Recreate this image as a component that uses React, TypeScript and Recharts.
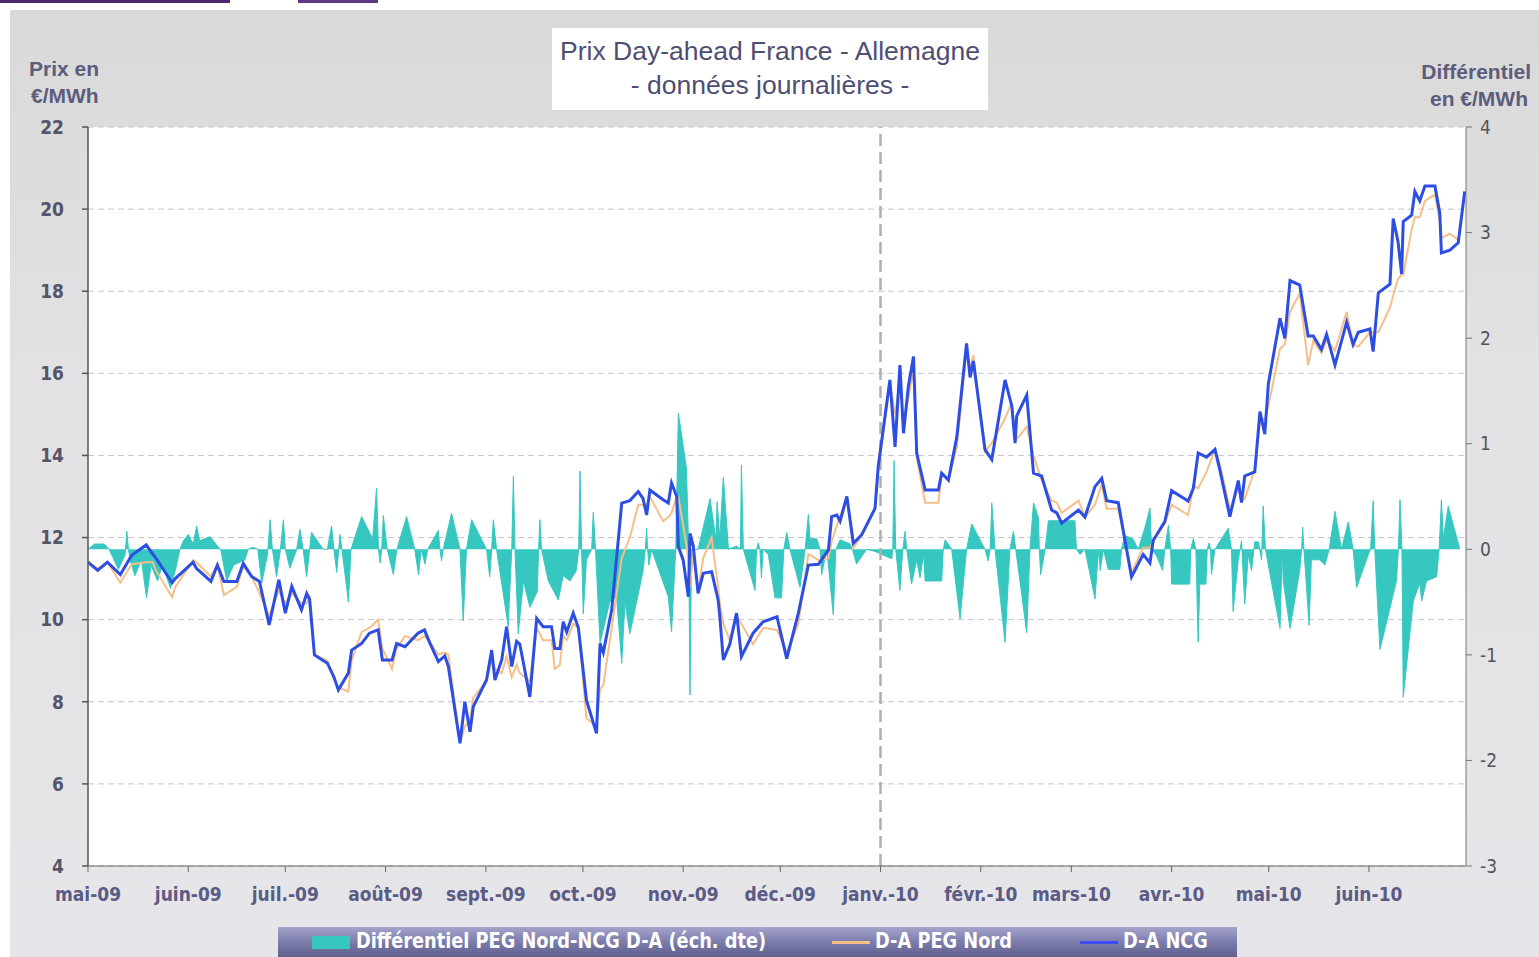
import React from 'react';
import {
  ComposedChart,
  Line,
  Area,
  XAxis,
  YAxis,
  CartesianGrid,
  ReferenceLine,
} from 'recharts';

// Day index counted from 1 May 2009
const monthTicks = [0, 31, 61, 92, 123, 153, 184, 214, 245, 276, 304, 335, 365, 396];
const monthLabels = [
  'mai-09', 'juin-09', 'juil.-09', 'août-09', 'sept.-09', 'oct.-09', 'nov.-09',
  'déc.-09', 'janv.-10', 'févr.-10', 'mars-10', 'avr.-10', 'mai-10', 'juin-10',
];
const leftTicks = [4, 6, 8, 10, 12, 14, 16, 18, 20, 22];
const rightTicks = [-3, -2, -1, 0, 1, 2, 3, 4];

const priceDays = [
  0, 3, 6, 10, 13.5, 18, 20, 21, 26, 27, 32.5, 33.5, 38, 40, 42, 46, 48, 50.6, 53, 56,
  59, 61, 63, 66, 67.6, 68.5, 70, 74, 76, 77.4, 80.5, 81.5, 84.6, 87, 89.7, 91, 94, 95.4, 98, 102,
  104, 105.7, 108.3, 110.3, 111.4, 115, 116.5, 118.1, 119.1, 123.2, 124.8, 125.8, 127.9, 129.4, 131, 132.5, 133.5, 136.6, 138.7, 140.7,
  143.3, 144.3, 145.9, 146.9, 148, 150, 151.6, 154.1, 157.2, 158.3, 159.3, 161.9, 165, 167.5, 170.1, 171.6, 172.7, 173.7, 177.8, 179.4,
  180.4, 182, 182.5, 184, 185.6, 186.1, 187.1, 188.6, 190.2, 192.8, 194.8, 195.3, 196.4, 198.4, 200.5, 202, 205.6, 208.7, 213, 216,
  219.6, 222.7, 225.8, 228.9, 229.9, 231.5, 232.5, 234.6, 236.6, 239.2, 243.3, 244.3, 247.9, 249.5, 251, 252.1, 253.6, 255.2, 256.2, 258.8,
  262.9, 263.9, 266, 268.6, 271.6, 272.7, 273.7, 277.3, 279.4, 283.5, 285.6, 286.6, 287.1, 290.2, 292.3, 294.8, 297.9, 299.5, 301, 306.2,
  308.2, 311.3, 313.4, 314.9, 318.5, 322.6, 326.2, 328.3, 329.3, 332.9, 335, 340.1, 341.7, 343.2, 345.8, 348.4, 349.9, 353, 355.6, 356.6,
  357.6, 360.7, 362.3, 363.8, 364.9, 368.5, 370, 371.6, 374.6, 377.2, 378.8, 381.3, 382.9, 385.5, 389.1, 391.1, 392.7, 396.3, 397.3, 398.9,
  402.5, 403.5, 405, 406.1, 406.6, 409.2, 410.2, 411.7, 413.3, 416.4, 417.9, 418.4, 421, 423.6, 425.6,
];

const ncgValues = [
  11.4, 11.2, 11.4, 11.1, 11.57, 11.82, 11.6, 11.5, 10.9, 11.0, 11.4, 11.25, 10.93, 11.33, 10.93, 10.93, 11.37, 11.05, 10.93, 9.87,
  10.97, 10.16, 10.81, 10.24, 10.64, 10.5, 9.14, 8.94, 8.61, 8.29, 8.7, 9.26, 9.42, 9.67, 9.75, 9.02, 9.02, 9.42, 9.34, 9.67,
  9.75, 9.43, 8.98, 9.12, 8.86, 6.99, 8.0, 7.27, 7.88, 8.53, 9.26, 8.53, 9.02, 9.83, 8.86, 9.47, 9.4, 8.12, 10.03, 9.83,
  9.83, 9.3, 9.3, 9.95, 9.7, 10.16, 9.8, 8.04, 7.23, 9.42, 9.2, 10.24, 12.84, 12.9, 13.12, 12.95, 12.55, 13.16, 12.92, 12.84,
  13.33, 13.0, 11.78, 11.45, 10.56, 12.1, 11.8, 10.64, 11.13, 11.17, 10.48, 10.1, 9.02, 9.4, 10.16, 9.1, 9.67, 9.95, 10.07, 9.05,
  10.16, 11.33, 11.35, 11.7, 12.51, 12.55, 12.4, 13.0, 11.86, 12.07, 12.71, 13.73, 15.84, 14.21, 16.2, 14.54, 15.68, 16.41, 14.05, 13.16,
  13.16, 13.57, 13.4, 14.46, 16.73, 15.9, 16.3, 14.14, 13.9, 15.84, 15.2, 14.3, 14.96, 15.47, 13.57, 13.5, 12.67, 12.6, 12.35, 12.67,
  12.5, 13.24, 13.44, 12.9, 12.85, 11.04, 11.59, 11.38, 11.93, 12.39, 13.14, 12.89, 13.2, 14.06, 13.96, 14.15, 13.65, 12.51, 13.39, 12.85,
  13.5, 13.6, 15.07, 14.52, 15.74, 17.34, 16.85, 18.26, 18.15, 16.91, 16.91, 16.58, 16.95, 16.2, 17.25, 16.7, 17.0, 17.08, 16.53, 17.96,
  18.17, 19.77, 19.2, 18.42, 19.7, 19.85, 20.43, 20.2, 20.56, 20.56, 19.9, 18.93, 19.0, 19.18, 20.43,
];

const pegValues = [
  11.4, 11.25, 11.4, 10.9, 11.35, 11.4, 11.4, 11.2, 10.55, 10.8, 11.45, 11.4, 11.05, 11.35, 10.6, 10.8, 11.3, 11.05, 10.65, 10.1,
  10.7, 10.4, 10.65, 10.4, 10.4, 10.6, 9.15, 9.0, 8.55, 8.35, 8.25, 9.0, 9.7, 9.8, 10.0, 9.3, 8.8, 9.3, 9.6, 9.5,
  9.6, 9.45, 9.15, 9.2, 9.15, 7.0, 7.4, 7.55, 8.1, 8.5, 9.0, 8.8, 8.7, 9.1, 8.6, 8.9, 8.7, 8.5, 9.8, 9.5,
  9.5, 8.8, 8.9, 9.6, 9.5, 9.9, 9.8, 7.6, 7.4, 8.3, 8.4, 9.8, 11.5, 12.0, 12.8, 12.8, 12.8, 13.0, 12.4, 12.5,
  12.6, 13.0, 13.0, 12.3, 11.5, 10.8, 11.6, 10.7, 11.5, 12.0, 10.8, 10.4, 9.9, 9.5, 10.1, 9.9, 9.4, 9.8, 9.75, 9.2,
  9.9, 11.6, 11.45, 11.5, 11.9, 12.3, 12.5, 13.0, 11.75, 12.05, 12.7, 13.65, 15.75, 15.0, 15.8, 14.7, 15.4, 16.1, 13.95, 12.85,
  12.85, 13.55, 13.4, 14.2, 16.6, 16.1, 16.45, 14.1, 14.3, 14.9, 15.3, 14.4, 14.4, 14.7, 14.0, 13.4, 12.9, 12.85, 12.6, 12.9,
  12.5, 12.8, 13.3, 12.7, 12.7, 11.15, 11.75, 11.75, 11.93, 12.35, 12.8, 12.55, 13.25, 13.2, 13.6, 14.15, 13.8, 12.7, 13.2, 12.9,
  12.95, 13.65, 14.8, 14.9, 15.2, 16.6, 16.7, 17.5, 17.95, 16.2, 16.8, 16.5, 16.8, 16.55, 17.5, 16.7, 16.65, 17.0, 17.0, 17.0,
  17.6, 17.9, 18.3, 18.4, 18.4, 19.5, 19.8, 19.8, 20.2, 20.35, 19.7, 19.3, 19.4, 19.25, 20.4,
];

const diffDays = [
  0, 2, 5, 6.5, 9.4, 11.5, 12, 12.5, 13, 14.5, 16.5, 18.1, 19.5, 21.5, 23, 25.5, 27, 28.4, 29.5, 31,
  32.5, 33.6, 34.5, 37.7, 40, 41, 42.9, 45, 48.5, 49.5, 51, 52.5, 53.7, 55.5, 56.3, 57, 58.3, 59.5, 60.4, 61,
  62.4, 64.5, 65.5, 66.5, 67.6, 68.5, 69.1, 72.7, 74, 75.3, 76, 76.9, 77.5, 77.9, 78.5, 80.5, 81.3, 84.6, 88, 89.2,
  89.8, 90.3, 90.8, 91.3, 92.5, 94.4, 95.5, 98.5, 101, 102.2, 103, 104.2, 105, 108.3, 108.8, 109.3, 109.8, 112.4, 115, 116,
  117, 118.6, 123.2, 124.2, 124.8, 125.3, 126.3, 129.9, 131, 131.5, 132, 133, 134.6, 136.6, 138.9, 139.3, 139.7, 140.2, 142.3, 145.4,
  146.9, 149, 151, 151.7, 152.1, 152.6, 153.1, 154.1, 155.7, 156.2, 156.9, 158.3, 161.3, 163.4, 165, 166, 167.5, 169.6, 171.6, 172.3,
  172.7, 173, 173.4, 174.2, 179.4, 180.4, 181.7, 182.5, 185, 185.7, 186.1, 186.6, 188.6, 192.3, 194.1, 194.5, 195.3, 196.4, 198, 200.5,
  201.7, 202, 202.6, 206.2, 206.7, 207.2, 207.7, 208.2, 208.7, 210.3, 212.4, 214.4, 215.1, 216, 217, 220.1, 221.7, 222.7, 223.2, 225.3,
  226.3, 226.8, 228.4, 230.4, 231.2, 232.5, 235.6, 236.3, 237.6, 240.7, 243.3, 248.5, 248.8, 249.2, 249.7, 251, 251.9, 252.6, 253.1, 254.6,
  256.2, 257.2, 258.3, 258.8, 263.9, 264.4, 265, 267, 269.6, 271.6, 273.2, 277.3, 278.3, 278.9, 279.4, 280.4, 283.5, 285, 286.1, 286.8,
  290.2, 291.2, 292.3, 293.8, 294.1, 294.5, 295.9, 296.9, 305.1, 305.6, 306.7, 308.2, 311.3, 312.4, 312.9, 313.9, 315.4, 319, 319.5, 320.5,
  323, 324.7, 326.7, 328.3, 328.8, 330.3, 332.2, 332.9, 334, 334.7, 335, 340.6, 340.9, 341.7, 342.5, 343.2, 343.7, 345.6, 346, 346.6,
  347, 347.3, 348.4, 352.5, 353.5, 354, 355.6, 356.6, 357.6, 358.7, 359.7, 360.7, 361.8, 362.8, 363.3, 364, 368.5, 369.2, 369.5, 371.6,
  374.6, 375.2, 375.5, 375.9, 377.5, 378.2, 380.8, 382.4, 383.7, 385.5, 387.5, 389.6, 391.1, 392.2, 395.8, 396.5, 397.3, 397.8, 399.4, 404.5,
  405.1, 405.6, 406.2, 406.6, 409.7, 411.7, 412.3, 413.8, 416.9, 417.7, 418.4, 419, 420.5, 424.1,
];

const diffValues = [
  0, 0.05, 0.05, 0, -0.19, -0.05, 0.17, 0, -0.1, -0.25, -0.1, -0.46, -0.15, -0.3, -0.15, -0.37, -0.2, 0, 0.08, 0.14,
  0.05, 0.22, 0.08, 0.12, 0.03, 0, -0.3, -0.15, -0.1, 0, 0.02, 0, -0.32, -0.05, 0.28, 0, -0.26, 0, 0.28, 0,
  -0.18, 0, 0.19, 0, -0.26, 0, 0.16, 0, 0, 0.22, 0, -0.22, 0, 0.14, 0, -0.5, 0, 0.31, 0.1, 0.58,
  0, -0.13, 0, 0.32, 0, -0.24, 0, 0.31, 0, -0.24, 0, -0.14, 0, 0.18, 0, -0.11, 0, 0.34, 0, -0.68,
  0, 0.28, 0, -0.26, 0, 0.28, 0, -0.73, 0, 0.69, 0, -0.8, -0.3, -0.55, -0.4, 0, 0.28, 0, -0.3, -0.48,
  -0.25, -0.3, -0.2, 0, 0.74, 0, -0.61, -0.1, 0, 0.35, 0, -0.89, -0.5, -0.45, -1.08, -0.5, -0.8, -0.5, -0.2, 0,
  0.2, 0, -0.15, 0, -0.45, -0.78, 0, 1.29, 0.77, 0, -1.38, 0, 0, 0.48, 0.1, 0.45, 0.1, 0.68, 0, 0.03,
  0, 0.8, 0, -0.39, 0, 0.06, 0, -0.27, 0, -0.05, -0.46, -0.46, 0, 0.16, 0, -0.36, 0, 0.33, 0.1, 0.1,
  0, -0.24, 0, -0.62, 0, 0.09, 0.05, 0, -0.14, 0, -0.02, -0.09, 0, 0.84, 0, -0.39, 0, 0.17, 0, -0.33,
  -0.1, -0.27, -0.05, -0.3, -0.3, 0, 0.09, 0, -0.66, 0, 0.24, 0, -0.11, 0, 0.44, 0, -0.88, 0, 0.17, 0,
  -0.79, 0, 0.44, 0.3, 0, -0.24, 0, 0.27, 0.27, 0, -0.05, 0, -0.47, 0, -0.2, 0, -0.19, -0.19, 0, 0.13,
  0.1, 0, 0.2, 0.39, 0, -0.06, -0.2, 0, 0.23, 0, -0.33, -0.33, 0, 0.1, 0, -0.88, -0.33, -0.33, 0, 0.06,
  0, -0.24, 0, 0.2, 0, -0.59, -0.1, 0.08, -0.52, -0.05, -0.2, 0.07, 0.07, -0.1, 0.41, 0, -0.75, 0, -0.3, -0.75,
  -0.2, 0, 0.21, 0, -0.72, -0.1, -0.1, -0.15, 0, 0.36, 0, 0.26, 0, -0.36, -0.05, 0, 0.46, 0, -0.95, -0.3,
  0, 0.47, 0, -1.4, -0.49, -0.32, -0.49, -0.3, -0.26, 0, 0.47, 0.1, 0.41, 0,
];

const priceData = priceDays.map((day, i) => ({ day, ncg: ncgValues[i], peg: pegValues[i] }));
const diffData = diffDays.map((day, i) => ({ day, diff: diffValues[i] }));

const NARROW = "'Liberation Sans Narrow', 'DejaVu Sans Condensed', 'Arial Narrow', sans-serif";
const SANS = "'Liberation Sans', Arial, sans-serif";

const COLOR_NCG = '#2c4ee2';
const COLOR_PEG = '#f6bf88';
const COLOR_DIFF = '#36c8c0';

export default function App() {
  return (
    <div style={{ position: 'absolute', left: 0, top: 0, width: 1539, height: 957, background: '#ffffff', overflow: 'hidden' }}>
      {/* decorative top strip */}
      <div style={{ position: 'absolute', left: 0, top: 0, width: 230, height: 3, background: '#4b2a6e' }} />
      <div style={{ position: 'absolute', left: 298, top: 0, width: 80, height: 3, background: '#5a3a80' }} />
      {/* gray panel */}
      <div
        style={{
          position: 'absolute', left: 10, top: 10, width: 1529, height: 947,
          background: 'linear-gradient(to bottom, #d9d9d9 0%, #e2e2e4 40%, #e6e6ea 100%)',
        }}
      />
      {/* title box */}
      <div
        style={{
          position: 'absolute', left: 552, top: 28, width: 436, height: 82, background: '#ffffff',
          textAlign: 'center', fontFamily: SANS, fontSize: 26.5, color: '#4e4e72', lineHeight: '34px', paddingTop: 6,
          boxSizing: 'border-box', whiteSpace: 'nowrap',
        }}
      >
        <div>Prix Day-ahead France - Allemagne</div>
        <div>- données journalières -</div>
      </div>
      {/* axis titles */}
      <div
        style={{
          position: 'absolute', left: 29, top: 55, fontFamily: SANS, fontWeight: 'bold', fontSize: 21,
          color: '#5c5c7c', lineHeight: '27px', textAlign: 'left',
        }}
      >
        <div>Prix en</div>
        <div style={{ paddingLeft: 2 }}>€/MWh</div>
      </div>
      <div
        style={{
          position: 'absolute', right: 8, top: 58, fontFamily: SANS, fontWeight: 'bold', fontSize: 21,
          color: '#5c5c7c', lineHeight: '27px', textAlign: 'right',
        }}
      >
        <div>Différentiel</div>
        <div style={{ paddingRight: 3 }}>en €/MWh</div>
      </div>

      <div style={{ position: 'absolute', left: 0, top: 0 }}>
        <ComposedChart width={1539} height={957} margin={{ top: 127, right: 0, bottom: 31, left: 0 }}>
          <CartesianGrid
            yAxisId="left"
            vertical={false}
            horizontal={true}
            stroke="#c4c4cc"
            strokeDasharray="6 4"
            fill="#ffffff"
            fillOpacity={1}
          />
          <XAxis
            dataKey="day"
            type="number"
            domain={[0, 426]}
            ticks={monthTicks}
            interval={0}
            allowDataOverflow
            tickFormatter={(v: number) => monthLabels[monthTicks.indexOf(v)] ?? ''}
            height={60}
            tickSize={6}
            tickMargin={16}
            stroke="#666"
            tick={{ fill: '#5b5b86', fontSize: 19, fontWeight: 'bold', fontFamily: NARROW }}
          />
          <YAxis
            yAxisId="left"
            orientation="left"
            type="number"
            domain={[4, 22]}
            ticks={leftTicks}
            interval={0}
            width={88}
            tickSize={6}
            tickMargin={18}
            stroke="#555"
            strokeWidth={1.5}
            allowDataOverflow
            tick={{ fill: '#55556a', fontSize: 19, fontWeight: 'bold', fontFamily: NARROW }}
          />
          <YAxis
            yAxisId="right"
            orientation="right"
            type="number"
            domain={[-3, 4]}
            ticks={rightTicks}
            interval={0}
            width={73}
            tickSize={6}
            tickMargin={8}
            stroke="#777"
            allowDataOverflow
            tick={{ fill: '#555', fontSize: 19, fontFamily: NARROW }}
          />
          <ReferenceLine
            yAxisId="left"
            x={245}
            stroke="#b0b0b0"
            strokeWidth={2.5}
            strokeDasharray="12 6"
          />
          <Area
            yAxisId="right"
            data={diffData}
            dataKey="diff"
            type="linear"
            baseValue={0}
            stroke={COLOR_DIFF}
            strokeWidth={1}
            fill={COLOR_DIFF}
            fillOpacity={1}
            dot={false}
            activeDot={false}
            isAnimationActive={false}
          />
          <Line
            yAxisId="left"
            data={priceData}
            dataKey="peg"
            type="linear"
            stroke={COLOR_PEG}
            strokeWidth={2}
            dot={false}
            activeDot={false}
            isAnimationActive={false}
          />
          <Line
            yAxisId="left"
            data={priceData}
            dataKey="ncg"
            type="linear"
            stroke={COLOR_NCG}
            strokeWidth={3}
            dot={false}
            activeDot={false}
            isAnimationActive={false}
          />
        </ComposedChart>
      </div>

      {/* legend */}
      <div
        style={{
          position: 'absolute', left: 278, top: 927, width: 959, height: 30,
          background: 'linear-gradient(to bottom, #a4a4cc 0%, #7c7cac 50%, #60608e 100%)',
          fontFamily: NARROW, fontWeight: 'bold', fontSize: 21, color: '#ffffff',
        }}
      >
        <div style={{ position: 'absolute', left: 34, top: 9, width: 38, height: 13, background: COLOR_DIFF }} />
        <div style={{ position: 'absolute', left: 78, top: 2, whiteSpace: 'nowrap', transform: 'scaleX(0.94)', transformOrigin: 'left center' }}>
          Différentiel PEG Nord-NCG D-A (éch. dte)
        </div>
        <div style={{ position: 'absolute', left: 554, top: 14, width: 38, height: 3, background: COLOR_PEG }} />
        <div style={{ position: 'absolute', left: 597, top: 2, whiteSpace: 'nowrap', transform: 'scaleX(0.94)', transformOrigin: 'left center' }}>
          D-A PEG Nord
        </div>
        <div style={{ position: 'absolute', left: 802, top: 14, width: 38, height: 3, background: '#3b4cf0' }} />
        <div style={{ position: 'absolute', left: 845, top: 2, whiteSpace: 'nowrap', transform: 'scaleX(0.94)', transformOrigin: 'left center' }}>
          D-A NCG
        </div>
      </div>
    </div>
  );
}
